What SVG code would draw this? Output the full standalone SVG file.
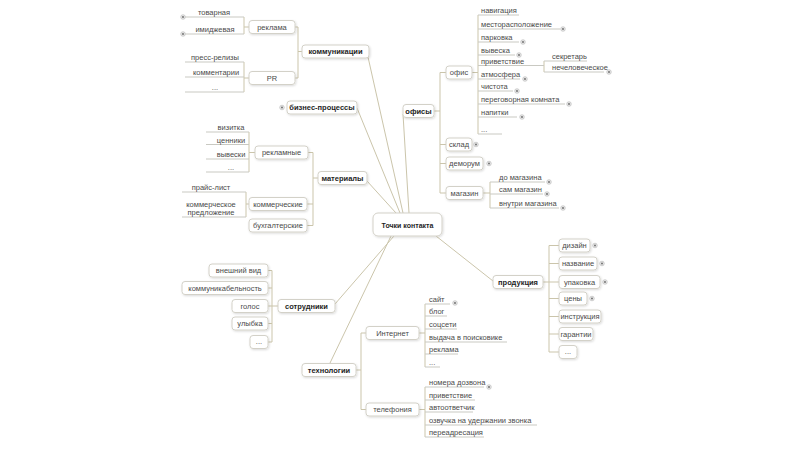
<svg xmlns="http://www.w3.org/2000/svg" xmlns:xlink="http://www.w3.org/1999/xlink" width="800" height="450" viewBox="0 0 800 450">
<style>
.ln{fill:none;stroke:#cbc5ab;stroke-width:1}
.ul{fill:none;stroke:#c9c9c2;stroke-width:1}
.bx{fill:#fff;stroke:#d3d1c8;stroke-width:1;filter:url(#sh)}
text{font-family:"Liberation Sans",Arial,sans-serif;font-size:7.5px;fill:#4a4a4a}
.b{font-weight:bold;fill:#1e1e1e}
.m{text-anchor:middle}
</style>
<defs>
<filter id="sh" x="-20%" y="-30%" width="140%" height="170%">
<feDropShadow dx="0.8" dy="1" stdDeviation="0.8" flood-color="#000" flood-opacity="0.15"/>
</filter>
<g id="plus"><circle r="2.3" fill="#e8e8e8" stroke="#b5b5b5" stroke-width="0.6"/><circle r="0.9" fill="#666"/></g>
</defs>
<rect width="800" height="450" fill="#fff"/>

<g id="connectors">
<path class="ln" d="M368 57 L403 213"/>
<path class="ln" d="M357 108 L400 213"/>
<path class="ln" d="M367 181 L396 213"/>
<path class="ln" d="M403 114 L409 213"/>
<path class="ln" d="M436 236 L493 281"/>
<path class="ln" d="M335 304 L394 236"/>
<path class="ln" d="M330 363 L391 236"/>
<path class="ln" d="M302 51.5 H298 M295 27 H298 V78 H295"/>
<path class="ln" d="M249 27 H244 V17 M244 27 V34"/>
<path class="ln" d="M249 78 H244 V62 M244 78 V92"/>
<path class="ln" d="M318 178 H313 M308 152.5 H313 V225.5 H307 M307 204 H313"/>
<path class="ln" d="M255 152.5 H249 V132 M249 152.5 V172"/>
<path class="ln" d="M249 204 H246 V192 M246 204 V217"/>
<path class="ln" d="M278 306 H272 M268 270.5 H272 V342 H268 M268 288 H272 M268 306 H272 M268 323.5 H272"/>
<path class="ln" d="M356 370 H361 M366 333 H361 V409.5 H366"/>
<path class="ln" d="M419 333 H425 V304 M425 333 V367"/>
<path class="ln" d="M419 409.5 H425 V387 M425 409.5 V437"/>
<path class="ln" d="M434 111 H440 M446 72.5 H440 V193 H446 M440 144.5 H446 M440 163.5 H446"/>
<path class="ln" d="M472 72.5 H478 V15 M478 72.5 V134"/>
<path class="ln" d="M544 61 V72"/>
<path class="ln" d="M483 193 H490 V182 M490 193 V208"/>
<path class="ln" d="M543 282 H549 M559 245.5 H549 V352 H559 M549 263.5 H559 M549 282 H559 M549 298.5 H559 M549 316.5 H559 M549 334 H559"/>
</g>

<g id="center">
<rect x="373" y="213" width="69" height="23" rx="5" class="bx"/>
<text x="407.5" y="227.5" class="b m" style="font-size:7px">Точки контакта</text>
</g>

<g id="kommunikacii"><rect x="302" y="45" width="67" height="13" rx="3" class="bx"/><text x="335.5" y="54.3" class="b m">коммуникации</text></g>
<g id="reklama"><rect x="249" y="20.5" width="46" height="13" rx="3" class="bx"/><text x="272" y="29.5" class="m">реклама</text></g>
<g id="pr"><rect x="249" y="71.5" width="46" height="13" rx="3" class="bx"/><text x="272" y="80.5" class="m">PR</text></g>
<g id="tovarnaya"><path class="ul" d="M185 17 H244"/><use xlink:href="#plus" x="183" y="17"/><text x="214" y="14.5" class="m">товарная</text></g>
<g id="imidzhevaya"><path class="ul" d="M185 34 H244"/><use xlink:href="#plus" x="183" y="34"/><text x="215" y="31.5" class="m">имиджевая</text></g>
<g id="press"><path class="ul" d="M185 62 H244"/><text x="215" y="59.5" class="m">пресс-релизы</text></g>
<g id="komment"><path class="ul" d="M185 77 H244"/><text x="216" y="74.5" class="m">комментарии</text></g>
<g id="pr-etc"><path class="ul" d="M185 92 H244"/><text x="215" y="89.5" class="m">...</text></g>

<g id="biznes"><rect x="287" y="101" width="70" height="13" rx="3" class="bx"/><text x="322" y="110.3" class="b m">бизнес-процессы</text><use xlink:href="#plus" x="282" y="107.5"/></g>

<g id="materialy"><rect x="318" y="171.5" width="49" height="13" rx="3" class="bx"/><text x="342.5" y="180.8" class="b m">материалы</text></g>
<g id="reklamnye"><rect x="255" y="146" width="53" height="13" rx="3" class="bx"/><text x="281.5" y="155.2" class="m">рекламные</text></g>
<g id="kommercheskie"><rect x="249" y="197.5" width="58" height="13" rx="3" class="bx"/><text x="278" y="206.7" class="m">коммерческие</text></g>
<g id="buhgalterskie"><rect x="249" y="219" width="58" height="13" rx="3" class="bx"/><text x="278" y="228.2" class="m">бухгалтерские</text></g>
<g id="vizitka"><path class="ul" d="M206 132 H249"/><text x="231" y="130" class="m">визитка</text></g>
<g id="cenniki"><path class="ul" d="M206 144.5 H249"/><text x="231" y="142.5" class="m">ценники</text></g>
<g id="vyveski"><path class="ul" d="M206 159 H249"/><text x="231" y="157" class="m">вывески</text></g>
<g id="rekl-etc"><path class="ul" d="M206 172 H249"/><text x="231" y="169.5" class="m">...</text></g>
<g id="prays"><path class="ul" d="M182 192 H246"/><text x="211" y="190" class="m">прайс-лист</text></g>
<g id="predl"><path class="ul" d="M182 217 H246"/><text x="211" y="207" class="m">коммерческое</text><text x="211" y="214.5" class="m">предложение</text></g>

<g id="sotrudniki"><rect x="278" y="299.5" width="57" height="13" rx="3" class="bx"/><text x="306.5" y="308.8" class="b m">сотрудники</text></g>
<g id="vneshniy"><rect x="209" y="264" width="59" height="13" rx="3" class="bx"/><text x="238.5" y="273.2" class="m">внешний вид</text></g>
<g id="kommunikabelnost"><rect x="182" y="281.5" width="86" height="13" rx="3" class="bx"/><text x="225" y="290.7" class="m">коммуникабельность</text></g>
<g id="golos"><rect x="232" y="299.5" width="36" height="13" rx="3" class="bx"/><text x="250" y="308.7" class="m">голос</text></g>
<g id="ulybka"><rect x="232" y="317" width="36" height="13" rx="3" class="bx"/><text x="250" y="326.2" class="m">улыбка</text></g>
<g id="sotr-etc"><rect x="250" y="335.5" width="18" height="13" rx="3" class="bx"/><text x="259" y="344" class="m">...</text></g>

<g id="tehnologii"><rect x="302" y="363.5" width="54" height="13" rx="3" class="bx"/><text x="329" y="372.8" class="b m">технологии</text></g>
<g id="internet"><rect x="366" y="326.5" width="53" height="13" rx="3" class="bx"/><text x="392.5" y="335.7" class="m">Интернет</text></g>
<g id="telefoniya"><rect x="366" y="403" width="53" height="13" rx="3" class="bx"/><text x="392.5" y="412.2" class="m">телефония</text></g>
<g id="sayt"><path class="ul" d="M425 304 H450"/><use xlink:href="#plus" x="455" y="303"/><text x="429" y="302">сайт</text></g>
<g id="blog"><path class="ul" d="M425 316 H447"/><text x="429" y="314">блог</text></g>
<g id="socseti"><path class="ul" d="M425 329 H457"/><text x="429" y="327">соцсети</text></g>
<g id="vydacha"><path class="ul" d="M425 342 H507"/><text x="429" y="340">выдача в поисковике</text></g>
<g id="reklama2"><path class="ul" d="M425 354 H458"/><text x="429" y="352">реклама</text></g>
<g id="inet-etc"><path class="ul" d="M425 367 H440"/><text x="429" y="364.5">...</text></g>
<g id="nomera"><path class="ul" d="M425 387 H484"/><use xlink:href="#plus" x="489" y="387"/><text x="429" y="385">номера дозвона</text></g>
<g id="privet2"><path class="ul" d="M425 400 H475"/><text x="429" y="398">приветствие</text></g>
<g id="avtootvetchik"><path class="ul" d="M425 412 H473"/><text x="429" y="410">автоответчик</text></g>
<g id="ozvuchka"><path class="ul" d="M425 425 H537"/><text x="429" y="423">озвучка на удержании звонка</text></g>
<g id="pereadr"><path class="ul" d="M425 437 H484"/><text x="429" y="435">переадресация</text></g>

<g id="ofisy"><rect x="403" y="104.5" width="31" height="13" rx="3" class="bx"/><text x="418.5" y="113.8" class="b m">офисы</text></g>
<g id="ofis"><rect x="446" y="66" width="26" height="13" rx="3" class="bx"/><text x="459" y="75.2" class="m">офис</text></g>
<g id="sklad"><rect x="446" y="138" width="26" height="13" rx="3" class="bx"/><text x="459" y="147.2" class="m">склад</text><use xlink:href="#plus" x="476" y="144.5"/></g>
<g id="demorum"><rect x="446" y="157" width="37" height="13" rx="3" class="bx"/><text x="464.5" y="166.2" class="m">деморум</text><use xlink:href="#plus" x="489" y="163.5"/></g>
<g id="magazin"><rect x="446" y="186.5" width="37" height="13" rx="3" class="bx"/><text x="464.5" y="195.7" class="m">магазин</text></g>
<g id="navigaciya"><path class="ul" d="M478 15 H519"/><text x="481" y="13">навигация</text></g>
<g id="mesto"><path class="ul" d="M478 29 H560"/><use xlink:href="#plus" x="563" y="29"/><text x="481" y="27">месторасположение</text></g>
<g id="parkovka"><path class="ul" d="M478 42 H519"/><use xlink:href="#plus" x="523" y="42"/><text x="481" y="40">парковка</text></g>
<g id="vyveska"><path class="ul" d="M478 55 H515"/><use xlink:href="#plus" x="519" y="55"/><text x="481" y="53">вывеска</text></g>
<g id="privetstvie"><path class="ul" d="M478 65.5 H544"/><text x="481" y="63.5">приветствие</text></g>
<g id="sekretar"><path class="ul" d="M544 61 H587"/><text x="552" y="59">секретарь</text></g>
<g id="nechel"><path class="ul" d="M544 72 H604"/><use xlink:href="#plus" x="609" y="72"/><text x="552" y="70">нечеловеческое</text></g>
<g id="atmosfera"><path class="ul" d="M478 79 H520"/><use xlink:href="#plus" x="525" y="79"/><text x="481" y="77">атмосфера</text></g>
<g id="chistota"><path class="ul" d="M478 91 H513"/><use xlink:href="#plus" x="517" y="91"/><text x="481" y="89">чистота</text></g>
<g id="peregovornaya"><path class="ul" d="M478 104 H565"/><use xlink:href="#plus" x="569" y="104"/><text x="481" y="102">переговорная комната</text></g>
<g id="napitki"><path class="ul" d="M478 117 H517"/><use xlink:href="#plus" x="522" y="117"/><text x="481" y="115">напитки</text></g>
<g id="ofis-etc"><path class="ul" d="M478 134 H502"/><text x="481" y="131.5">...</text></g>
<g id="do-magazina"><path class="ul" d="M490 182 H545"/><use xlink:href="#plus" x="549" y="182"/><text x="499" y="180">до магазина</text></g>
<g id="sam-magazin"><path class="ul" d="M490 194 H543"/><use xlink:href="#plus" x="547" y="194"/><text x="499" y="192">сам магазин</text></g>
<g id="vnutri"><path class="ul" d="M490 208 H559"/><use xlink:href="#plus" x="563" y="208"/><text x="499" y="206">внутри магазина</text></g>

<g id="produkciya"><rect x="493" y="275.5" width="50" height="13" rx="3" class="bx"/><text x="518" y="284.8" class="b m">продукция</text></g>
<g id="dizayn"><rect x="559" y="239" width="31" height="13" rx="3" class="bx"/><text x="574.5" y="248.2" class="m">дизайн</text><use xlink:href="#plus" x="595" y="245.5"/></g>
<g id="nazvanie"><rect x="559" y="257" width="38" height="13" rx="3" class="bx"/><text x="578" y="266.2" class="m">название</text><use xlink:href="#plus" x="602" y="263.5"/></g>
<g id="upakovka"><rect x="559" y="275.5" width="41" height="13" rx="3" class="bx"/><text x="579.5" y="284.7" class="m">упаковка</text><use xlink:href="#plus" x="605" y="282"/></g>
<g id="ceny"><rect x="559" y="292" width="28" height="13" rx="3" class="bx"/><text x="573" y="301.2" class="m">цены</text><use xlink:href="#plus" x="592" y="298.5"/></g>
<g id="instrukciya"><rect x="559" y="310" width="42" height="13" rx="3" class="bx"/><text x="580" y="319.2" class="m">инструкция</text></g>
<g id="garantii"><rect x="559" y="327.5" width="34" height="13" rx="3" class="bx"/><text x="576" y="336.7" class="m">гарантии</text></g>
<g id="prod-etc"><rect x="559" y="345.5" width="18" height="13" rx="3" class="bx"/><text x="568" y="354" class="m">...</text></g>
</svg>
